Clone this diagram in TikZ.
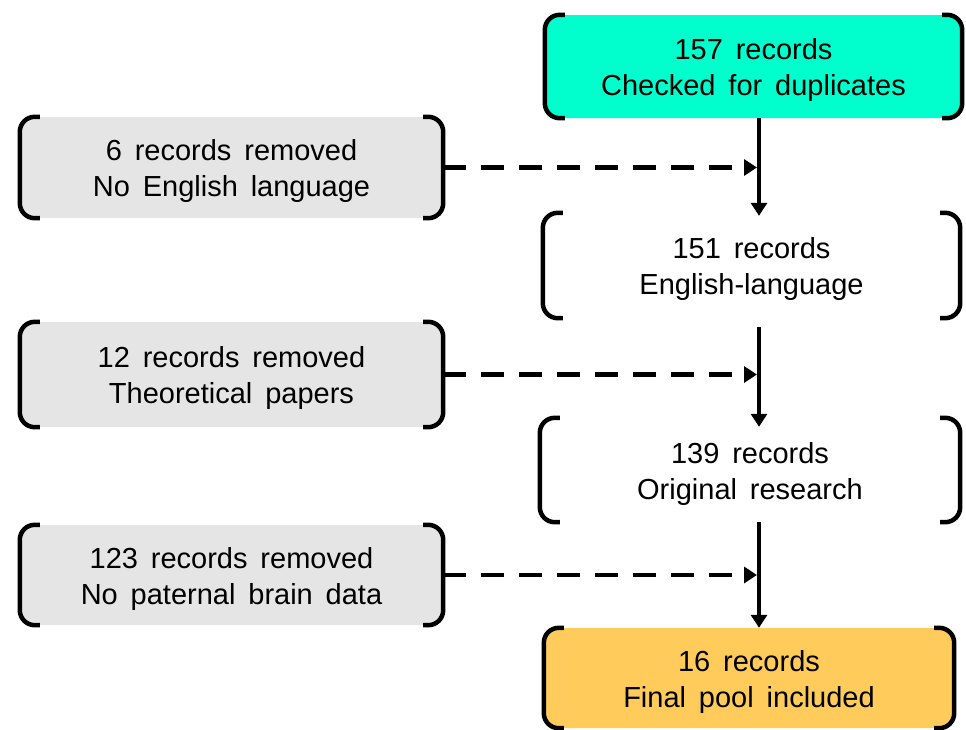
\documentclass[tikz,border=0pt]{standalone}
\usepackage{fontspec}
\newfontfamily\labfont{Liberation Sans}[WordSpace=1.6]
\usetikzlibrary{arrows.meta}
\definecolor{tealfill}{RGB}{0,255,204}
\definecolor{grayfill}{RGB}{229,229,229}
\definecolor{orangefill}{RGB}{255,204,92}
\tikzset{
  box/.style={rectangle, rounded corners=15pt, draw=none, align=center,
    font=\labfont\fontsize{29}{36}\selectfont, inner sep=0pt,
    execute at begin node={\rule{0pt}{64pt}}},
  bracketline/.style={line width=4.5pt, rounded corners=15pt},
  flow/.style={line width=4.5pt, -{Triangle[length=13pt,width=16pt]}},
  skipflow/.style={flow, dash pattern=on 23pt off 15pt, shorten >=2pt},
}
\newcommand\drawbrackets[1]{%
  \draw[bracketline] ([xshift=20pt]#1.north west) -- (#1.north west) -- (#1.south west) -- ([xshift=20pt]#1.south west);
  \draw[bracketline] ([xshift=-20pt]#1.north east) -- (#1.north east) -- (#1.south east) -- ([xshift=-20pt]#1.south east);}
\begin{document}
\begin{tikzpicture}[x=1pt,y=-1pt]
\path[use as bounding box] (0,0) rectangle (966,729);
\coordinate (spine) at (759,0);
% main column
\node[box, fill=tealfill, minimum width=417pt, minimum height=103pt] (n157) at (753.5,66.5) {157 records\\Checked for duplicates};
\node[box, minimum width=417pt, minimum height=105pt] (n151) at (751.5,265.5) {151 records\\English-language};
\node[box, minimum width=420pt, minimum height=104pt] (n139) at (750,470) {139 records\\Original research};
\node[box, fill=orangefill, minimum width=410pt, minimum height=100pt] (n16) at (749,678) {16 records\\Final pool included};
% exclusions
\node[box, fill=grayfill, minimum width=423pt, minimum height=101pt] (g1) at (231.5,167.5) {6 records removed\\No English language};
\node[box, fill=grayfill, minimum width=423pt, minimum height=105pt] (g2) at (231.5,374.5) {12 records removed\\Theoretical papers};
\node[box, fill=grayfill, minimum width=423pt, minimum height=100pt] (g3) at (231.5,575) {123 records removed\\No paternal brain data};
% brackets
\drawbrackets{n157}
\drawbrackets{n151}
\drawbrackets{n139}
\drawbrackets{n16}
\drawbrackets{g1}
\drawbrackets{g2}
\drawbrackets{g3}
% flow arrows
\draw[flow] (n157.south -| spine) -- ([yshift=-3pt]n151.north -| spine);
\draw[flow] ([yshift=-9pt]n151.south -| spine) -- ([yshift=-9pt]n139.north -| spine);
\draw[flow] (n139.south -| spine) -- (n16.north -| spine);
% exclusion arrows
\draw[skipflow] (g1.east) -- (g1.east -| spine);
\draw[skipflow] (g2.east) -- (g2.east -| spine);
\draw[skipflow] (g3.east) -- (g3.east -| spine);
\end{tikzpicture}
\end{document}
